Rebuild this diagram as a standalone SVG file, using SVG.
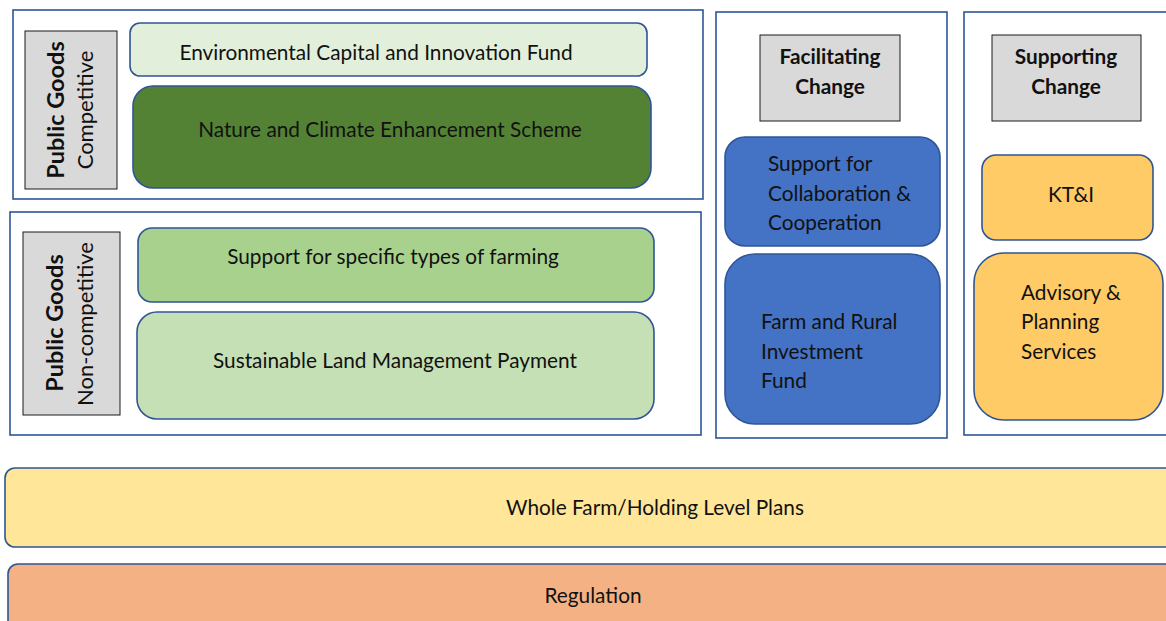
<svg xmlns="http://www.w3.org/2000/svg" width="1166" height="621" viewBox="0 0 1166 621">
  <style>
    .frame { fill: #ffffff; stroke: #2F5597; stroke-width: 1.6; }
    .box { stroke: #2F5597; stroke-width: 1.6; }
    .tag { fill: #D9D9D9; stroke: #1a1a1a; stroke-width: 1; }
    text { font-family: Lato, "Open Sans", "Liberation Sans", sans-serif; fill: #111111; font-size: 20.8px; }
    .c { text-anchor: middle; }
    .b { font-weight: bold; }
    .side-head { font-weight: bold; font-size: 23.5px; }
    .side-sub { font-size: 22px; }
  </style>
  <rect width="1166" height="621" fill="#ffffff"/>

  <!-- Public goods: competitive -->
  <g id="group-competitive">
    <rect class="frame" x="13" y="10" width="690" height="189"/>
    <rect class="tag" x="25" y="31" width="92" height="158"/>
    <text class="c side-head" transform="translate(64,110) rotate(-90)">Public Goods</text>
    <text class="c side-sub" transform="translate(93,110) rotate(-90)">Competitive</text>
  </g>
  <g id="env-capital-fund">
    <rect class="box" x="130" y="23" width="517" height="53" rx="10" fill="#E2EFDA"/>
    <text class="c" x="376" y="60">Environmental Capital and Innovation Fund</text>
  </g>
  <g id="nature-climate-scheme">
    <rect class="box" x="133" y="86" width="518" height="102" rx="20" fill="#548235"/>
    <text class="c" x="390" y="137">Nature and Climate Enhancement Scheme</text>
  </g>

  <!-- Public goods: non-competitive -->
  <g id="group-noncompetitive">
    <rect class="frame" x="10" y="212" width="691" height="223"/>
    <rect class="tag" x="23" y="232" width="97" height="183"/>
    <text class="c side-head" transform="translate(63,323) rotate(-90)">Public Goods</text>
    <text class="c side-sub" transform="translate(93,324) rotate(-90)">Non-competitive</text>
  </g>
  <g id="specific-farming">
    <rect class="box" x="138" y="228" width="516" height="74" rx="14" fill="#A9D18E"/>
    <text class="c" x="393" y="264">Support for specific types of farming</text>
  </g>
  <g id="slm-payment">
    <rect class="box" x="137" y="312" width="517" height="107" rx="20" fill="#C5E0B4"/>
    <text class="c" x="395" y="368">Sustainable Land Management Payment</text>
  </g>

  <!-- Facilitating change -->
  <g id="group-facilitating">
    <rect class="frame" x="716" y="12" width="231" height="426"/>
    <rect class="tag" x="760" y="35" width="140" height="86"/>
    <text class="c b" x="830" y="64">Facilitating</text>
    <text class="c b" x="830" y="94">Change</text>
  </g>
  <g id="collaboration">
    <rect class="box" x="725" y="137" width="215" height="109" rx="20" fill="#4472C4"/>
    <text x="768" y="171">Support for</text>
    <text x="768" y="201">Collaboration &amp;</text>
    <text x="768" y="230">Cooperation</text>
  </g>
  <g id="investment-fund">
    <rect class="box" x="725" y="254" width="215" height="170" rx="30" fill="#4472C4"/>
    <text x="761" y="329">Farm and Rural</text>
    <text x="761" y="359">Investment</text>
    <text x="761" y="388">Fund</text>
  </g>

  <!-- Supporting change -->
  <g id="group-supporting">
    <rect class="frame" x="964" y="12" width="215" height="423"/>
    <rect class="tag" x="992" y="35" width="149" height="86"/>
    <text class="c b" x="1066" y="64">Supporting</text>
    <text class="c b" x="1066" y="94">Change</text>
  </g>
  <g id="kti">
    <rect class="box" x="982" y="155" width="171" height="85" rx="14" fill="#FFCB66"/>
    <text class="c" x="1071" y="202">KT&amp;I</text>
  </g>
  <g id="advisory">
    <rect class="box" x="974" y="253" width="189" height="167" rx="30" fill="#FFCB66"/>
    <text x="1021" y="300">Advisory &amp;</text>
    <text x="1021" y="329">Planning</text>
    <text x="1021" y="359">Services</text>
  </g>

  <!-- Foundation layers -->
  <g id="whole-farm-plans">
    <rect class="box" x="5" y="468" width="1170" height="79" rx="10" fill="#FFE699"/>
    <text class="c" x="655" y="515">Whole Farm/Holding Level Plans</text>
  </g>
  <g id="regulation">
    <rect class="box" x="8" y="564" width="1170" height="70" rx="10" fill="#F4B183"/>
    <text class="c" x="593" y="603">Regulation</text>
  </g>

  <g id="connectors"></g>
</svg>
